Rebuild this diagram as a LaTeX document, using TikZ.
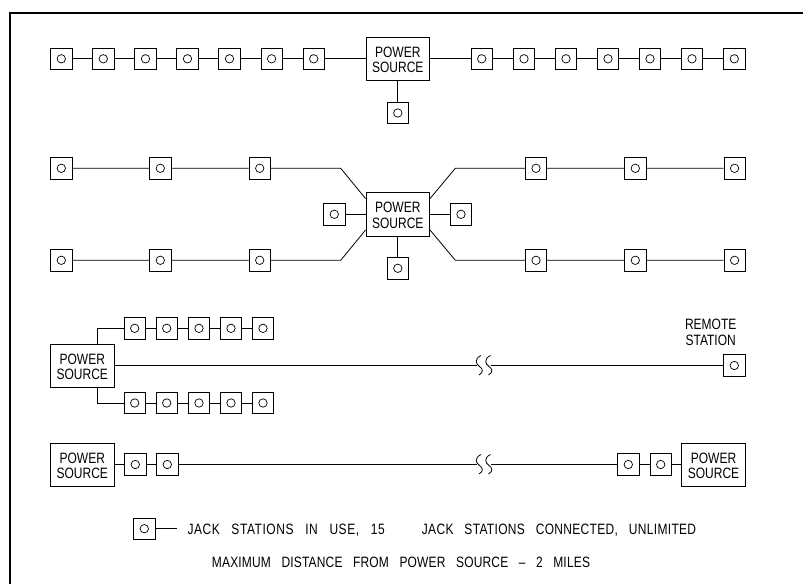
\documentclass[tikz,border=0pt]{standalone}
\usepackage{fontspec}
\newfontfamily\cadfont[FakeStretch=0.8]{Liberation Sans}
\newfontfamily\cadwide[FakeStretch=0.8,LetterSpace=2.1,WordSpace=3]{Liberation Sans}
\newcommand{\sourcetext}{\rule{0pt}{12.5pt}POWER\\SOURCE}
\tikzset{
  jack/.style={draw,line width=0.8pt,minimum size=21.4pt,inner sep=0pt,
    path picture={\draw[line width=0.7pt] (path picture bounding box.center) circle (4.2pt);}},
  source/.style={draw,line width=0.8pt,minimum width=63.7pt,minimum height=43.6pt,inner sep=0pt,
    align=center,font=\cadfont\fontsize{15}{15.6}\selectfont},
  wire/.style={line width=0.8pt},
  legend/.style={inner sep=0pt,anchor=base west,font=\cadwide\fontsize{15}{16}\selectfont}
}
\begin{document}
\begin{tikzpicture}[x=1pt,y=1pt,yscale=-1,xscale=1]
\useasboundingbox (0,0) rectangle (803,584);

%Frame
\coordinate (framea) at (803,12.5);
\coordinate (frameb) at (10,12.5);
\coordinate (framec) at (10,584);
\draw [line width=2pt] (framea) -- (frameb) -- (framec) ;

% First row
\node [source] (psa) at (397.8,58.8) {\sourcetext};
\node [jack] (a1) at (61.3,58.8) {};
\node [jack] (a2) at (103.3,58.8) {};
\node [jack] (a3) at (145.5,58.8) {};
\node [jack] (a4) at (187.5,58.8) {};
\node [jack] (a5) at (229.5,58.8) {};
\node [jack] (a6) at (271.6,58.8) {};
\node [jack] (a7) at (313.7,58.8) {};
\node [jack] (a8) at (481.7,58.8) {};
\node [jack] (a9) at (524,58.8) {};
\node [jack] (a10) at (566,58.8) {};
\node [jack] (a11) at (608,58.8) {};
\node [jack] (a12) at (650,58.8) {};
\node [jack] (a13) at (692,58.8) {};
\node [jack] (a14) at (734.3,58.8) {};
\node [jack] (a15) at (397.8,113) {};
\draw [wire] (a1) -- (a2) -- (a3) -- (a4) -- (a5) -- (a6) -- (a7) -- (psa) -- (a8) -- (a9) -- (a10) -- (a11) -- (a12) -- (a13) -- (a14) ;
\draw [wire] (psa) -- (a15) ;

% Second row
\node [source] (psb) at (397.8,214.3) {\sourcetext};
\node [jack] (b1) at (61.3,168.3) {};
\node [jack] (b2) at (160.3,168.3) {};
\node [jack] (b3) at (259.7,168.3) {};
\node [jack] (b4) at (536,168.3) {};
\node [jack] (b5) at (635.3,168.3) {};
\node [jack] (b6) at (734.6,168.3) {};
\node [jack] (b7) at (61.3,260.3) {};
\node [jack] (b8) at (160.3,260.3) {};
\node [jack] (b9) at (259.7,260.3) {};
\node [jack] (b10) at (536,260.3) {};
\node [jack] (b11) at (635.3,260.3) {};
\node [jack] (b12) at (734.6,260.3) {};
\node [jack] (b13) at (334.3,214.3) {};
\node [jack] (b14) at (461,214.3) {};
\node [jack] (b15) at (397.8,268.3) {};
\coordinate (bendnw) at (340.7,168.3);
\coordinate (bendne) at (455.3,168.3);
\coordinate (bendsw) at (340.7,260.3);
\coordinate (bendse) at (455.3,260.3);
\draw [wire] (b1) -- (b2) -- (b3) -- (bendnw) -- (psb.154) ;
\draw [wire] (b7) -- (b8) -- (b9) -- (bendsw) -- (psb.206) ;
\draw [wire] (b6) -- (b5) -- (b4) -- (bendne) -- (psb.26) ;
\draw [wire] (b12) -- (b11) -- (b10) -- (bendse) -- (psb.-26) ;
\draw [wire] (b13) -- (psb) -- (b14) ;
\draw [wire] (psb) -- (b15) ;

% Third row
\node [source] (psc) at (82.3,365.7) {\sourcetext};
\node [jack] (c1) at (134.7,328.3) {};
\node [jack] (c2) at (166.7,328.3) {};
\node [jack] (c3) at (199,328.3) {};
\node [jack] (c4) at (231,328.3) {};
\node [jack] (c5) at (263,328.3) {};
\node [jack] (c6) at (134.7,403) {};
\node [jack] (c7) at (166.7,403) {};
\node [jack] (c8) at (199,403) {};
\node [jack] (c9) at (231,403) {};
\node [jack] (c10) at (263,403) {};
\node [jack] (remote) at (734.3,365.5) {};
\node [font=\cadfont\fontsize{15}{16}\selectfont,align=center,inner sep=0pt] (remotetext) at (710.7,332) {REMOTE\\STATION};
\coordinate (brkca) at (477,365.5);
\coordinate (brkcb) at (490.5,365.5);
\draw [wire] (psc.55) |- (c1) -- (c2) -- (c3) -- (c4) -- (c5) ;
\draw [wire] (psc.-55) |- (c6) -- (c7) -- (c8) -- (c9) -- (c10) ;
\draw [wire] (psc.east |- remote) -- (brkca) ;
\draw [wire] (brkcb) -- (remote) ;
\draw [wire] (481,355.5) .. controls (474,359) and (476,364) .. (479,366) .. controls (483,369) and (484,372) .. (479,375) ;
\draw [wire] (490.5,355.5) .. controls (483.5,359) and (485.5,364) .. (488.5,366) .. controls (492.5,369) and (493.5,372) .. (488.5,375) ;

% Fourth row
\node [source] (psd) at (82.3,464.7) {\sourcetext};
\node [source] (pse) at (713.5,464.7) {\sourcetext};
\node [jack] (d1) at (135.3,464.5) {};
\node [jack] (d2) at (167.3,464.5) {};
\node [jack] (d3) at (628.3,464.5) {};
\node [jack] (d4) at (660.7,464.5) {};
\coordinate (brkda) at (477,464.5);
\coordinate (brkdb) at (490.5,464.5);
\draw [wire] (psd.east |- d1) -- (d1) -- (d2) -- (brkda) ;
\draw [wire] (brkdb) -- (d3) -- (d4) -- (pse.west |- d4) ;
\draw [wire] (481,454.5) .. controls (474,458) and (476,463) .. (479,465) .. controls (483,468) and (484,471) .. (479,474) ;
\draw [wire] (490.5,454.5) .. controls (483.5,458) and (485.5,463) .. (488.5,465) .. controls (492.5,468) and (493.5,471) .. (488.5,474) ;

% Legend
\node [jack] (key) at (144.3,528.7) {};
\coordinate (keyend) at (177,528.7);
\draw [wire] (key) -- (keyend) ;
\node [legend] (inuse) at (187.3,534) {\addfontfeature{LetterSpace=3.7}JACK STATIONS IN USE, 15};
\node [legend] (connected) at (421.7,534) {JACK STATIONS CONNECTED, UNLIMITED};
\node [legend] (maxdist) at (211.7,567) {\addfontfeature{LetterSpace=1.2}MAXIMUM DISTANCE FROM POWER SOURCE – 2 MILES};
\end{tikzpicture}
\end{document}
